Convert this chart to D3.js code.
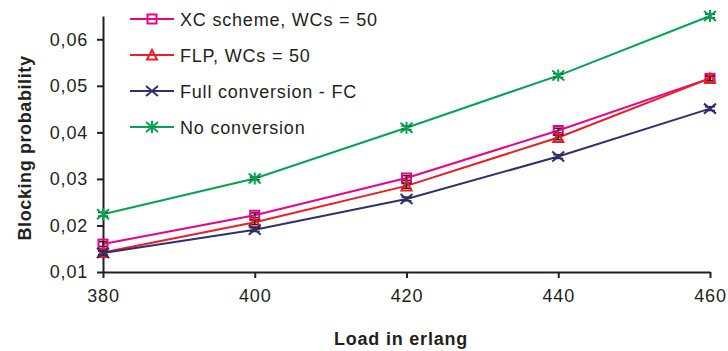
<!DOCTYPE html>
<html>
<head>
<meta charset="utf-8">
<script src="https://cdn.jsdelivr.net/npm/d3@7"></script>
<style>
  body { margin: 0; background: #fff; }
  svg { font-family: "Liberation Sans", Arial, sans-serif; }
</style>
</head>
<body>
<div id="chart"></div>
<script>
// load values (x axis)
var loads = [380, 400, 420, 440, 460];

// blocking probability per scheme
var xcValues   = [0.0160, 0.0222, 0.0302, 0.0404, 0.0516];
var flpValues  = [0.0142, 0.0207, 0.0285, 0.0389, 0.0516];
var fcValues   = [0.0141, 0.0191, 0.0257, 0.0348, 0.0451];
var noValues   = [0.0224, 0.0301, 0.0410, 0.0522, 0.0650];

// half width of the confidence interval
var xcErr  = [0.0005, 0.0005, 0.0005, 0.0005, 0.0005];
var flpErr = [0.0005, 0.0005, 0.0005, 0.0005, 0.0005];
var fcErr  = [0.0004, 0.0004, 0.0004, 0.0004, 0.0004];
var noErr  = [0.0004, 0.0003, 0.0004, 0.0004, 0.0004];

var yTicks = [0.01, 0.02, 0.03, 0.04, 0.05, 0.06];

var series = [
  { name: "XC scheme, WCs = 50",     values: xcValues,  err: xcErr,  color: "#ec008c", marker: "square" },
  { name: "FLP, WCs = 50",           values: flpValues, err: flpErr, color: "#ee1c25", marker: "triangle" },
  { name: "Full conversion - FC",    values: fcValues,  err: fcErr,  color: "#2e3170", marker: "cross" },
  { name: "No conversion",           values: noValues,  err: noErr,  color: "#00a651", marker: "star" }
];

var width = 728, height = 351;

var svg = d3.select("#chart").append("svg")
    .attr("width", width)
    .attr("height", height);

var xScale = d3.scaleLinear().domain([380, 460]).range([103, 710]);
var yScale = d3.scaleLinear().domain([0.01, 0.065]).range([272, 16]);

var fmt = function(d){ return d3.format(".2f")(d).replace(".", ","); };

// axes
var xAxis = d3.axisBottom(xScale).tickValues(loads).tickSize(6).tickSizeOuter(0).tickPadding(11);
var yAxis = d3.axisLeft(yScale).tickValues(yTicks).tickFormat(fmt).tickSize(6).tickSizeOuter(0).tickPadding(9);

var gx = svg.append("g")
    .attr("transform", "translate(0," + 272 + ")")
    .call(xAxis);
var gy = svg.append("g")
    .attr("transform", "translate(" + 103 + ",0)")
    .call(yAxis);

[gx, gy].forEach(function(g){
  g.select(".domain").attr("stroke", "#231f20").attr("stroke-width", 2);
  g.selectAll(".tick line").attr("stroke", "#231f20").attr("stroke-width", 2);
  g.selectAll(".tick text")
    .attr("fill", "#231f20")
    .style("font-size", "18px")
    .style("letter-spacing", "0.8px")
    .style("font-family", "Liberation Sans, Arial, sans-serif");
});

// axis titles
svg.append("text")
    .attr("x", 401).attr("y", 345)
    .attr("text-anchor", "middle")
    .style("font-size", "18px").style("font-weight", "bold")
    .style("letter-spacing", "0.8px")
    .attr("fill", "#231f20")
    .text("Load in erlang");

svg.append("text")
    .attr("transform", "translate(31," + 148 + ") rotate(-90)")
    .attr("text-anchor", "middle")
    .style("font-size", "18px").style("font-weight", "bold")
    .style("letter-spacing", "0.6px")
    .attr("fill", "#231f20")
    .text("Blocking probability");

var line = d3.line()
    .x(function(d){ return xScale(d[0]); })
    .y(function(d){ return yScale(d[1]); });

var drawMarker = function(g, type, color){
  if (type == "square") {
    g.append("rect").attr("x", -4.5).attr("y", -4.5).attr("width", 9).attr("height", 9)
      .attr("fill", "none").attr("stroke", color).attr("stroke-width", 2);
  } else if (type == "triangle") {
    g.append("path").attr("d", "M0,-5L5,4.5L-5,4.5Z")
      .attr("fill", "none").attr("stroke", color).attr("stroke-width", 2);
  } else if (type == "cross") {
    g.append("path").attr("d", "M-6,-5L6,5M-6,5L6,-5")
      .attr("stroke", color).attr("stroke-width", 2);
  } else {
    g.append("path").attr("d", "M-6,-5L6,5M-6,5L6,-5M0,-6L0,6")
      .attr("stroke", color).attr("stroke-width", 2);
  }
};

series.forEach(function(s){
  var pts = loads.map(function(l, i){ return [l, s.values[i], s.err[i]]; });

  svg.append("path")
    .datum(pts)
    .attr("fill", "none")
    .attr("stroke", s.color)
    .attr("stroke-width", 2)
    .attr("d", line);

  // error bars
  var eb = svg.append("g").attr("stroke", "#231f20").attr("stroke-width", 1.5);
  pts.forEach(function(p){
    var x = xScale(p[0]), y0 = yScale(p[1] - p[2]), y1 = yScale(p[1] + p[2]);
    eb.append("line").attr("x1", x).attr("x2", x).attr("y1", y0).attr("y2", y1);
    eb.append("line").attr("x1", x - 5).attr("x2", x + 5).attr("y1", y0).attr("y2", y0);
    eb.append("line").attr("x1", x - 5).attr("x2", x + 5).attr("y1", y1).attr("y2", y1);
  });

  pts.forEach(function(p){
    var g = svg.append("g").attr("transform", "translate(" + xScale(p[0]) + "," + yScale(p[1]) + ")");
    drawMarker(g, s.marker, s.color);
  });
});

// legend
var legend = svg.append("g").attr("transform", "translate(130,19)");
series.forEach(function(s, i){
  var g = legend.append("g").attr("transform", "translate(0," + (i * 36) + ")");
  g.append("line").attr("x1", 0).attr("x2", 44).attr("y1", 0).attr("y2", 0)
    .attr("stroke", s.color).attr("stroke-width", 2);
  var m = g.append("g").attr("transform", "translate(22,0)");
  drawMarker(m, s.marker, s.color);
  g.append("text").attr("x", 50).attr("y", 7)
    .style("font-size", "18px")
    .style("letter-spacing", "0.8px")
    .attr("fill", "#231f20")
    .text(s.name);
});
</script>
</body>
</html>
